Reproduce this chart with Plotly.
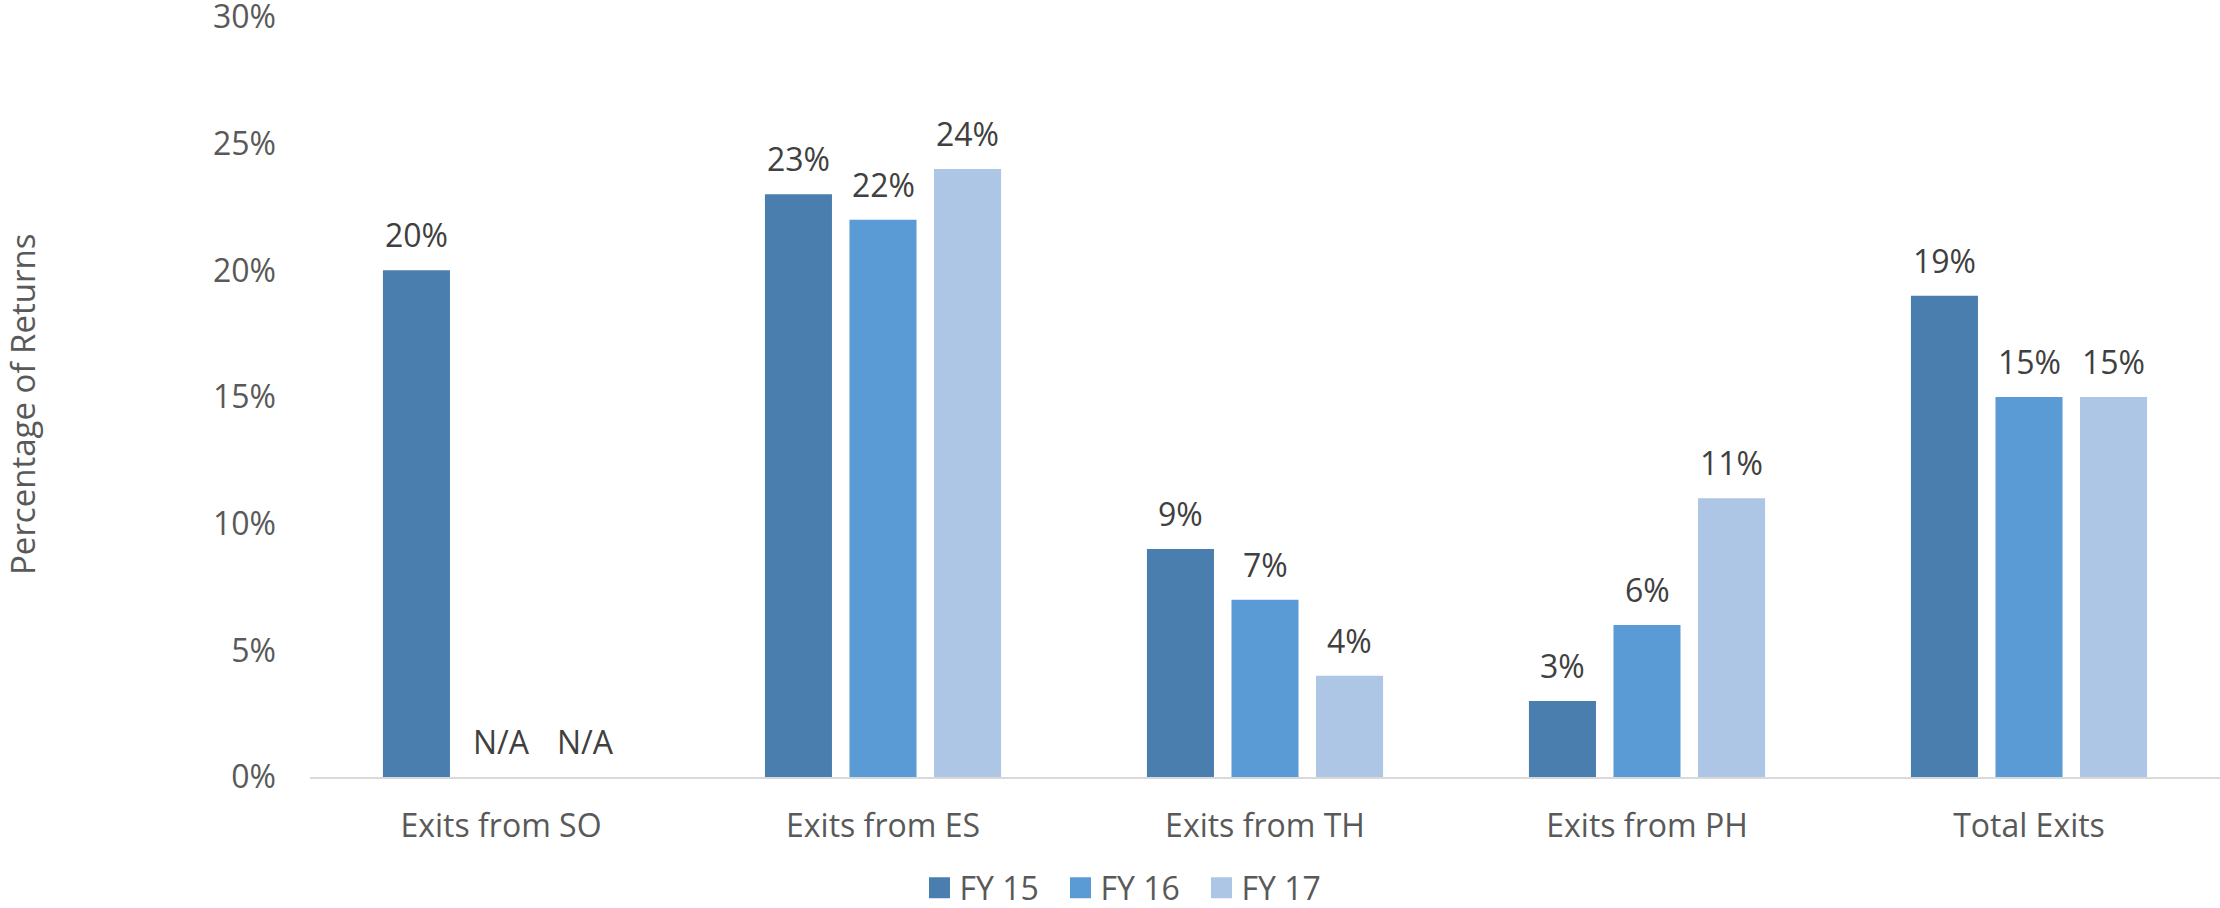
import plotly.graph_objects as go

categories = ["Exits from SO", "Exits from ES", "Exits from TH", "Exits from PH", "Total Exits"]
series_names = ["FY 15", "FY 16", "FY 17"]
fy15 = [20, 23, 9, 3, 19]
fy16 = [None, 22, 7, 6, 15]
fy17 = [None, 24, 4, 11, 15]
colors = ["#4A7EAF", "#5B9BD5", "#ADC6E5"]
y_ticks = [0, 5, 10, 15, 20, 25, 30]
y_ticktext = ["0%", "5%", "10%", "15%", "20%", "25%", "30%"]

FONT = "Open Sans"
W, H = 2220, 908
ML, MR, MT, MB = 310, 0, 17, 131
BARGAP = 0.336
BARGROUPGAP = 0.207

fig = go.Figure()
all_series = [fy15, fy16, fy17]
for name, vals, col in zip(series_names, all_series, colors):
    fig.add_trace(go.Bar(
        x=categories, y=vals, name=name,
        marker=dict(color=col, line=dict(width=0)),
        hoverinfo="skip", showlegend=True,
    ))

# data labels via annotations, shifted to each bar of the group
cat_px = (W - ML - MR) / len(categories)
slot = cat_px * (1 - BARGAP) / len(all_series)
annotations = []
for i, vals in enumerate(all_series):
    shift = (i - (len(all_series) - 1) / 2) * slot
    for c, v in zip(categories, vals):
        txt = "N/A" if v is None else f"{v}%"
        annotations.append(dict(
            x=c, y=0 if v is None else v, xref="x", yref="y",
            text=txt, showarrow=False, xanchor="center", yanchor="bottom",
            xshift=shift, yshift=12,
            font=dict(family=FONT, size=32, color="#404040"),
        ))

annotations.append(dict(
    text="Percentage of Returns", xref="paper", yref="paper",
    x=(22 - ML) / (W - ML - MR), y=(H - MB - 405) / (H - MB - MT),
    textangle=-90, showarrow=False, xanchor="center", yanchor="middle",
    font=dict(family=FONT, size=33, color="#595959"),
))

fig.update_layout(
    width=W, height=H,
    margin=dict(l=ML, r=MR, t=MT, b=MB, pad=0, autoexpand=False),
    plot_bgcolor="white", paper_bgcolor="white",
    barmode="group", bargap=BARGAP, bargroupgap=BARGROUPGAP,
    font=dict(family=FONT, size=32, color="#595959"),
    showlegend=True,
    legend=dict(
        orientation="h", x=(1131 - ML) / (W - ML - MR), xanchor="center",
        y=(H - MB - 888) / (H - MB - MT), yanchor="middle",
        font=dict(family=FONT, size=32, color="#595959"),
        entrywidth=96, entrywidthmode="pixels",
        bgcolor="rgba(0,0,0,0)",
    ),
    annotations=annotations,
)
fig.update_xaxes(
    showline=True, linecolor="#D9D9D9", linewidth=2,
    showgrid=False, ticks="", ticklabelstandoff=20,
    tickfont=dict(family=FONT, size=32, color="#595959"),
    fixedrange=True, automargin=False,
)
fig.update_yaxes(
    range=[0, 30], tickvals=y_ticks, ticktext=y_ticktext,
    showgrid=False, zeroline=False, showline=False, ticks="",
    ticklabelstandoff=33, ticklabeloverflow="allow",
    tickfont=dict(family=FONT, size=32, color="#595959"),
    fixedrange=True, automargin=False,
)

# remove the page's default body margin and enlarge the legend swatches
post_js = """
document.body.style.margin = '0';
document.body.style.overflow = 'hidden';
document.querySelectorAll('.legendpoints path').forEach(function(p){
  var t = p.getAttribute('transform') || '';
  p.setAttribute('transform', t + ' scale(1.75)');
});
"""

fig.write_html("out.html", post_script=post_js, config={"displayModeBar": False})
